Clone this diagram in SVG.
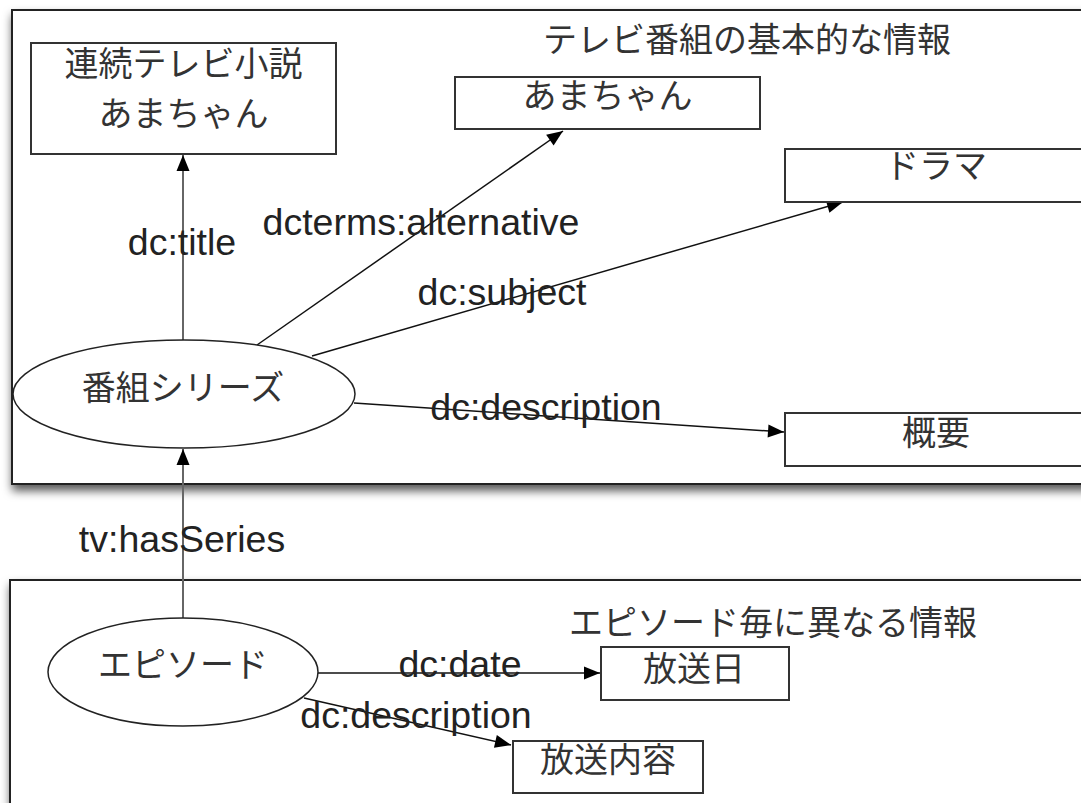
<svg xmlns="http://www.w3.org/2000/svg" width="1081" height="803" viewBox="0 0 1081 803">
<defs>
<filter id="shadow" x="-10%" y="-10%" width="120%" height="130%">
<feDropShadow dx="1" dy="6" stdDeviation="5" flood-color="#000" flood-opacity="0.65"/>
</filter>
<marker id="arr" markerUnits="userSpaceOnUse" markerWidth="17" markerHeight="14" refX="16" refY="6.5" orient="auto" overflow="visible">
<path d="M0,0 L16,6.5 L0,13 z" fill="#000"/>
</marker>
<style>
.cont{fill:#fff;stroke:#222;stroke-width:2;filter:url(#shadow)}
.box{fill:#fff;stroke:#333;stroke-width:2}
.ell{fill:#fff;stroke:#222;stroke-width:1.5}
.jp{font-family:"Noto Sans CJK JP","Noto Sans",sans-serif;font-size:34px;fill:#333;text-anchor:middle}
.lbl{font-family:"Liberation Sans",Arial,sans-serif;font-size:37.5px;fill:#222;text-anchor:middle}
.ln{fill:none;stroke:#111;stroke-width:1.5;marker-end:url(#arr)}
.vln{fill:none;stroke:#666;stroke-width:2;marker-end:url(#arr)}
</style>
</defs>
<rect width="1081" height="803" fill="#fff"/>
<g id="container-series">
<rect class="cont" x="12" y="10" width="1090" height="474"/>
<text class="jp" x="747" y="52">テレビ番組の基本的な情報</text>
</g>
<g id="container-episode">
<rect class="cont" x="10" y="580" width="1090" height="240"/>
<text class="jp" x="773" y="635">エピソード毎に異なる情報</text>
</g>
<g id="connectors">
<line class="vln" x1="183" y1="340" x2="183" y2="155"/>
<line class="ln" x1="257" y1="345" x2="563" y2="131"/>
<line class="ln" x1="312" y1="356" x2="843" y2="202"/>
<line class="ln" x1="354" y1="403" x2="784" y2="432"/>
<line class="vln" x1="183" y1="618" x2="183" y2="449"/>
<line class="ln" x1="318" y1="673" x2="600" y2="673"/>
<line class="ln" x1="304" y1="698" x2="511" y2="745"/>
<text class="lbl" x="182" y="255">dc:title</text>
<text class="lbl" x="421" y="235">dcterms:alternative</text>
<text class="lbl" x="502" y="305">dc:subject</text>
<text class="lbl" x="546" y="420">dc:description</text>
<text class="lbl" x="182" y="552">tv:hasSeries</text>
<text class="lbl" x="460" y="677">dc:date</text>
<text class="lbl" x="416" y="728">dc:description</text>
</g>
<g id="node-title">
<rect class="box" x="31" y="43" width="305" height="111"/>
<text class="jp" x="183.5" y="76">連続テレビ小説</text>
<text class="jp" x="183.5" y="126">あまちゃん</text>
</g>
<g id="node-alternative">
<rect class="box" x="455" y="77" width="305" height="52"/>
<text class="jp" x="607.5" y="108">あまちゃん</text>
</g>
<g id="node-subject">
<rect class="box" x="785" y="149" width="305" height="53"/>
<text class="jp" x="936" y="178">ドラマ</text>
</g>
<g id="node-description">
<rect class="box" x="785" y="413" width="305" height="53"/>
<text class="jp" x="936" y="445">概要</text>
</g>
<g id="node-series">
<ellipse class="ell" cx="184" cy="394" rx="171" ry="54"/>
<text class="jp" x="183" y="400">番組シリーズ</text>
</g>
<g id="node-episode">
<ellipse class="ell" cx="183" cy="672" rx="135" ry="54"/>
<text class="jp" x="183" y="677">エピソード</text>
</g>
<g id="node-date">
<rect class="box" x="601" y="647" width="188" height="53"/>
<text class="jp" x="694" y="681">放送日</text>
</g>
<g id="node-content">
<rect class="box" x="513" y="741" width="190" height="52"/>
<text class="jp" x="608" y="772">放送内容</text>
</g>
</svg>
